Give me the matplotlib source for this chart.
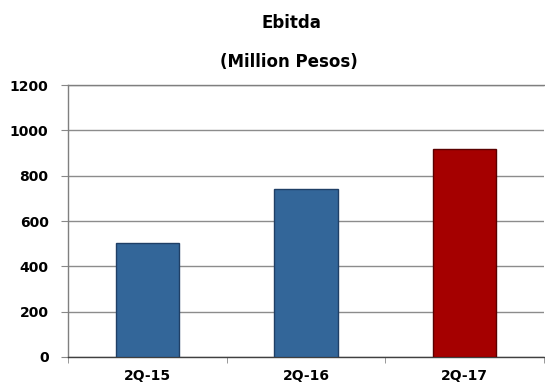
import matplotlib
matplotlib.use("Agg")
import matplotlib.pyplot as plt
import numpy as np

categories = ["2Q-15", "2Q-16", "2Q-17"]
values = [505, 740, 918]
colors = ["#336699", "#336699", "#A50000"]
edges = ["#1F3F66", "#1F3F66", "#5A0000"]
yticks = [0, 200, 400, 600, 800, 1000, 1200]

plt.rcParams['font.family'] = ['DejaVu Sans']

fig = plt.figure(figsize=(5.45, 3.88), dpi=100)
ax = fig.add_axes([68/545, 31/388, 476/545, 272/388])

x = np.arange(len(categories))
ax.bar(x, values, width=0.40, color=colors, edgecolor=edges, linewidth=1.0, zorder=3)

ax.set_xlim(-0.5, len(categories) - 0.5)
ax.set_ylim(0, 1200)
ax.set_yticks(yticks)
ax.set_yticklabels([str(v) for v in yticks], fontsize=10, fontweight='bold')
ax.set_xticks(x)
ax.set_xticklabels(categories, fontsize=10, fontweight='bold')
ax.tick_params(axis='x', length=0, pad=9)
ax.set_xticks(np.arange(len(categories) + 1) - 0.5, minor=True)
ax.tick_params(axis='x', which='minor', length=4, color='#888888', direction='out')
ax.tick_params(axis='y', length=5, color='#888888', direction='out', pad=9)

ax.yaxis.grid(True, color='#8C8C8C', linewidth=1.0, zorder=0)
ax.set_axisbelow(True)
for s in ['left', 'top']:
    ax.spines[s].set_color('#7F7F7F')
    ax.spines[s].set_linewidth(1.0)
ax.spines['right'].set_visible(False)
ax.spines['bottom'].set_color('#404040')
ax.spines['bottom'].set_linewidth(1.0)

fig.text(291/545, 1 - 23/388, "Ebitda", ha='center', va='center', fontsize=12, fontweight='bold')
fig.text(289/545, 1 - 62/388, "(Million Pesos)", ha='center', va='center', fontsize=12, fontweight='bold')

fig.savefig("out.png", dpi=100)
